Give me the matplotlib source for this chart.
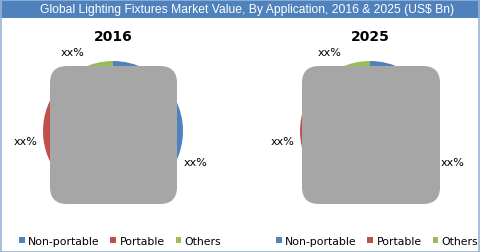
import matplotlib.pyplot as plt
from matplotlib.patches import Rectangle, FancyBboxPatch

W, H = 480, 253

title = 'Global Lighting Fixtures Market Value, By Application, 2016 & 2025 (US$ Bn)'
years = ['2016', '2025']
categories = ['Non-portable', 'Portable', 'Others']
share_2016 = [61.5, 23.5, 15]
share_2025 = [61.5, 23.5, 15]
labels = ['xx%', 'xx%', 'xx%']
colors = ['#4F81BD', '#C0504D', '#9BBB59']

fig = plt.figure(figsize=(W / 100, H / 100), dpi=100)
fig.patch.set_facecolor('white')

def px(x, y, w, h):
    # pixel box (top-left origin) -> figure fraction
    return [x / W, 1 - (y + h) / H, w / W, h / H]

# title bar and outer border
fig.patches.append(Rectangle((0, 1 - 19 / H), 1, 19 / H, transform=fig.transFigure,
                             facecolor='#4F81BD', edgecolor='none', zorder=0))
fig.patches.append(Rectangle((0.5 / W, 0.5 / H), 1 - 1.5 / W, 1 - 1 / H, transform=fig.transFigure,
                             facecolor='none', edgecolor='#95B3D7', lw=1.2, zorder=5))
fig.text(247 / W, 1 - 10 / H, title, color='white', ha='center', va='center',
         fontsize=8.7, family='Liberation Sans')

centers = [113, 370]
for i, (year, vals) in enumerate(zip(years, [share_2016, share_2025])):
    cx = centers[i]
    ax = fig.add_axes(px(cx - 70, 62, 140, 140))
    wedges, texts = ax.pie(vals, labels=labels, colors=colors, startangle=90,
                           counterclock=False, labeldistance=1.26,
                           textprops={'fontsize': 8, 'color': '#000000'})
    for t in texts:
        t.set_ha('center')
        t.set_va('center')
    ax.set_xlim(-1, 1)
    ax.set_ylim(-1, 1)
    ax.set_aspect('equal')
    fig.text(cx / W, 1 - 37 / H, year, ha='center', va='center',
             fontsize=10, fontweight='bold')

    leg = fig.legend(wedges, categories, loc='center', bbox_to_anchor=((cx + 7) / W, 1 - 242 / H),
                     ncol=3, frameon=False, fontsize=7.8, handlelength=0.55, handleheight=0.55,
                     handletextpad=0.3, columnspacing=1.0)

# grey rounded overlays covering the pies
for x0, x1 in [(50, 177), (302, 440)]:
    fig.patches.append(FancyBboxPatch((x0, H - 205), x1 - x0, 138,
                                      boxstyle='round,pad=0,rounding_size=17',
                                      transform=None, facecolor='#A6A6A6',
                                      edgecolor='none', zorder=10))

fig.savefig('out.png', dpi=100)
